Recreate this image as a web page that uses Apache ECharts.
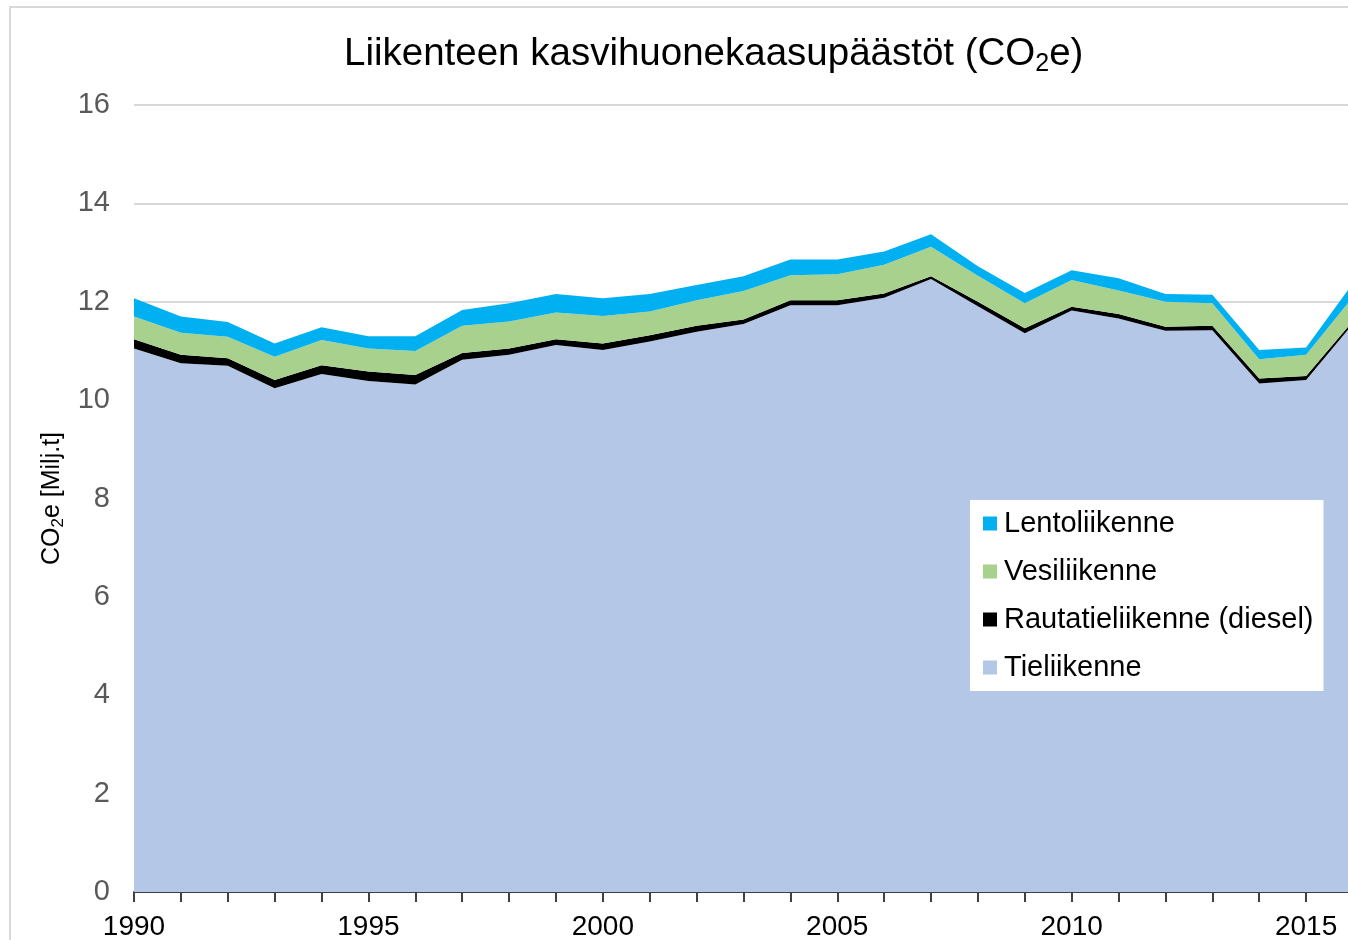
<!DOCTYPE html>
<html>
<head>
<meta charset="utf-8">
<script src="https://cdn.jsdelivr.net/npm/echarts@6/dist/echarts.min.js"></script>
<style>
  html, body { margin: 0; padding: 0; background: #fff; }
  #main { width: 1348px; height: 940px; }
</style>
</head>
<body>
<div id="main"></div>
<script>
// years on the x axis
var years = [];
for (var y = 1990; y <= 2016; y++) years.push(String(y));

// CO2e, million tonnes
var tieliikenne = [11.05, 10.75, 10.70, 10.24, 10.53, 10.39, 10.32, 10.82, 10.92, 11.12, 11.02, 11.19, 11.39, 11.55,
  11.93, 11.93, 12.08, 12.46, 11.91, 11.36, 11.82, 11.66, 11.41, 11.42, 10.34, 10.41, 11.55];
var rautatie = [0.19, 0.17, 0.15, 0.17, 0.18, 0.19, 0.19, 0.14, 0.13, 0.12, 0.13, 0.13, 0.12, 0.09,
  0.10, 0.10, 0.09, 0.06, 0.09, 0.10, 0.08, 0.09, 0.08, 0.09, 0.10, 0.08, 0.06];
var vesi = [0.46, 0.45, 0.44, 0.47, 0.51, 0.47, 0.49, 0.55, 0.55, 0.54, 0.56, 0.48, 0.52, 0.58,
  0.51, 0.53, 0.58, 0.60, 0.53, 0.51, 0.54, 0.48, 0.51, 0.46, 0.39, 0.43, 0.49];
var lento = [0.37, 0.33, 0.30, 0.27, 0.26, 0.25, 0.30, 0.32, 0.37, 0.38, 0.36, 0.36, 0.31, 0.30,
  0.32, 0.30, 0.27, 0.25, 0.19, 0.21, 0.20, 0.25, 0.16, 0.17, 0.19, 0.15, 0.28];

var yTicks = [0, 2, 4, 6, 8, 10, 12, 14, 16];

var font = '"Liberation Sans", Arial, sans-serif';

var chart = echarts.init(document.getElementById('main'));

function areaSeries(name, data, color) {
  return {
    name: name,
    type: 'line',
    stack: 'total',
    data: data,
    showSymbol: false,
    symbol: 'none',
    lineStyle: { width: 0 },
    itemStyle: { color: color },
    areaStyle: { color: color, opacity: 1 },
    emphasis: { disabled: true }
  };
}

chart.setOption({
  animation: false,
  backgroundColor: '#fff',
  textStyle: { fontFamily: font },
  graphic: [{
    type: 'rect',
    shape: { x: 10, y: 7, width: 1400, height: 1000 },
    style: { fill: 'none', stroke: '#d9d9d9', lineWidth: 2 },
    silent: true
  }],
  title: {
    text: '{a|Liikenteen kasvihuonekaasupäästöt (CO}{s|2}{a|e)}',
    left: 339,
    top: 26,
    textStyle: {
      rich: {
        a: { fontSize: 38.5, fontWeight: 'normal', color: '#000', fontFamily: font, lineHeight: 46 },
        s: { fontSize: 25, fontWeight: 'normal', color: '#000', fontFamily: font, verticalAlign: 'bottom', lineHeight: 46, padding: [14, 0, 0, 0] }
      }
    }
  },
  legend: {
    orient: 'vertical',
    left: 970,
    top: 500,
    padding: [9, 10, 9, 13],
    itemGap: 19,
    itemWidth: 14,
    itemHeight: 14,
    icon: 'rect',
    backgroundColor: '#fff',
    selectedMode: false,
    data: ['Lentoliikenne', 'Vesiliikenne', 'Rautatieliikenne (diesel)', 'Tieliikenne'],
    textStyle: { fontSize: 29, color: '#000', fontFamily: font, padding: [0, 0, 0, 2] }
  },
  grid: {
    left: 134,
    top: 105,
    width: 1219,
    bottom: 48,
    containLabel: false,
    outerBoundsMode: 'none'
  },
  xAxis: {
    type: 'category',
    data: years,
    boundaryGap: false,
    axisLine: { lineStyle: { color: '#404040', width: 2 } },
    axisTick: { show: true, length: 10, interval: 0, lineStyle: { color: '#404040', width: 2 } },
    axisLabel: { interval: 4, fontSize: 28, color: '#000', margin: 21, fontFamily: font },
    splitLine: { show: false }
  },
  yAxis: {
    type: 'value',
    min: 0,
    max: yTicks[yTicks.length - 1],
    interval: yTicks[1] - yTicks[0],
    name: '{a|CO}{s|2}{a|e [Milj.t]}',
    nameLocation: 'middle',
    nameRotate: 90,
    nameGap: 66,
    nameTextStyle: {
      rich: {
        a: { fontSize: 25, color: '#000', fontFamily: font, lineHeight: 30 },
        s: { fontSize: 17, color: '#000', fontFamily: font, verticalAlign: 'bottom', lineHeight: 30, padding: [9, 0, 0, 0] }
      }
    },
    axisLine: { show: false },
    axisTick: { show: false },
    axisLabel: { fontSize: 29, color: '#595959', margin: 24, fontFamily: font },
    splitLine: { lineStyle: { color: '#d9d9d9', width: 2 } }
  },
  series: [
    areaSeries('Tieliikenne', tieliikenne, '#b4c7e7'),
    areaSeries('Rautatieliikenne (diesel)', rautatie, '#000000'),
    areaSeries('Vesiliikenne', vesi, '#a9d18e'),
    areaSeries('Lentoliikenne', lento, '#00b0f0')
  ]
});
</script>
</body>
</html>
